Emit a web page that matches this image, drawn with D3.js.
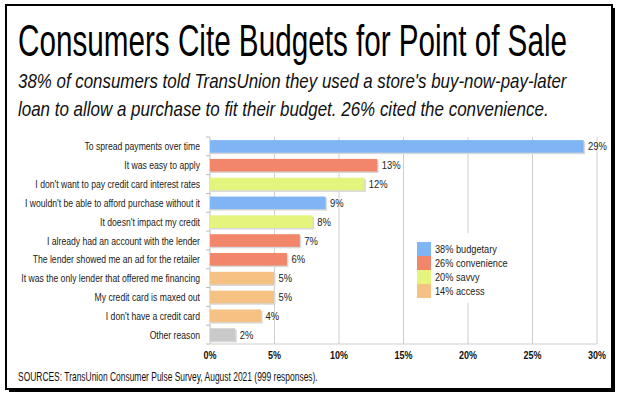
<!DOCTYPE html>
<html>
<head>
<script src="https://d3js.org/d3.v7.min.js"></script>
<style>
  body { margin: 0; background: #fff; }
  text { font-family: "Liberation Sans Narrow", "Liberation Sans", Arial, sans-serif; }
</style>
</head>
<body>
<script>
    var W = 620, H = 395;

    var reasons = [
        "To spread payments over time",
        "It was easy to apply",
        "I don't want to pay credit card interest rates",
        "I wouldn't be able to afford purchase without it",
        "It doesn't impact my credit",
        "I already had an account with the lender",
        "The lender showed me an ad for the retailer",
        "It was the only lender that offered me financing",
        "My credit card is maxed out",
        "I don't have a credit card",
        "Other reason"
    ];
    var shares = [29, 13, 12, 9, 8, 7, 6, 5, 5, 4, 2];
    var groups = ["budgetary", "convenience", "savvy", "budgetary", "savvy", "convenience",
                  "convenience", "access", "access", "access", "other"];
    var groupNames = ["budgetary", "convenience", "savvy", "access"];
    var legendLabels = ["38% budgetary", "26% convenience", "20% savvy", "14% access"];
    var xTicks = [0, 5, 10, 15, 20, 25, 30];

    var colors = d3.scaleOrdinal()
        .domain(["budgetary", "convenience", "savvy", "access", "other"])
        .range(["#7fb5f5", "#f2866a", "#e4f47c", "#f5c283", "#c9c9c9"]);

    // squeeze text horizontally (no narrow font installed)
    function narrow(sel, k) {
        sel.each(function() {
            var len = this.getComputedTextLength();
            d3.select(this).attr('textLength', len * k).attr('lengthAdjust', 'spacingAndGlyphs');
        });
    }

    // fit a left-aligned text to a given width by scaling its group
    function fitText(g, str, width) {
        var t = g.append('text').attr('x', 0).attr('y', 0).text(str);
        return t;
    }

    var svg = d3.select('body').append('svg')
        .attr('width', W).attr('height', H);

    // frame with drop shadow
    svg.append('rect').attr('x', 9).attr('y', 8).attr('width', 606).attr('height', 384).attr('fill', '#000');
    svg.append('rect').attr('x', 6).attr('y', 5).attr('width', 606).attr('height', 384)
        .attr('fill', '#fff').attr('stroke', '#000').attr('stroke-width', 2);

    function scaledLine(str, x0, y0, width, size, italic) {
        var g = svg.append('g');
        var t = g.append('text').attr('x', 0).attr('y', 0)
            .attr('font-size', size).attr('fill', '#000')
            .attr('font-style', italic ? 'italic' : 'normal')
            .text(str);
        var sx = width / t.node().getComputedTextLength();
        g.attr('transform', 'translate(' + x0 + ',' + y0 + ') scale(' + sx + ',1)');
        return t;
    }

    scaledLine('Consumers Cite Budgets for Point of Sale', 18, 56, 549, 45, false);

    var sub = [
        "38% of consumers told TransUnion they used a store's buy-now-pay-later",
        "loan to allow a purchase to fit their budget. 26% cited the convenience."
    ];
    var subLen = [549, 531];
    sub.forEach(function(s, i) {
        scaledLine(s, 18, 88 + i * 28, subLen[i], 20, true).attr('fill', '#111');
    });

    var x = d3.scaleLinear().domain([0, 30]).range([210, 597]);
    var y = d3.scaleBand().domain(reasons).range([137, 344]).paddingInner(0.33).paddingOuter(0.165);

    // gridlines
    svg.append('g').selectAll('line').data(xTicks.slice(1)).join('line')
        .attr('x1', d => x(d)).attr('x2', d => x(d))
        .attr('y1', 137).attr('y2', 344)
        .attr('stroke', '#cfcfcf').attr('stroke-width', 1);

    svg.append('line').attr('x1', 210).attr('x2', 597).attr('y1', 344).attr('y2', 344)
        .attr('stroke', '#cfcfcf');

    // left axis with boundary ticks
    svg.append('line').attr('x1', 210).attr('x2', 210).attr('y1', 137).attr('y2', 344)
        .attr('stroke', '#bdbdbd');
    svg.append('g').selectAll('line').data(d3.range(reasons.length + 1)).join('line')
        .attr('x1', 206).attr('x2', 210)
        .attr('y1', d => 137 + d * y.step())
        .attr('y2', d => 137 + d * y.step())
        .attr('stroke', '#bdbdbd');

    var rows = reasons.map(function(r, i) { return {r: r, v: shares[i], g: groups[i]}; });

    // bar shadows
    svg.append('g').selectAll('rect').data(rows).join('rect')
        .attr('x', x(0) + 1).attr('y', d => y(d.r) + 1.5)
        .attr('width', d => x(d.v) - x(0)).attr('height', y.bandwidth())
        .attr('fill', '#d8d8d8');

    svg.append('g').selectAll('rect').data(rows).join('rect')
        .attr('x', x(0)).attr('y', d => y(d.r))
        .attr('width', d => x(d.v) - x(0) - 0.5).attr('height', y.bandwidth())
        .attr('fill', d => colors(d.g));

    svg.append('g').selectAll('text').data(rows).join('text')
        .attr('x', d => x(d.v) + 4).attr('y', d => y(d.r) + y.bandwidth() / 2 + 4)
        .attr('font-size', 11.5).attr('fill', '#222')
        .text(d => d.v + '%')
        .call(narrow, 0.82);

    svg.append('g').selectAll('text').data(rows).join('text')
        .attr('x', 200).attr('y', d => y(d.r) + y.bandwidth() / 2 + 4)
        .attr('text-anchor', 'end').attr('font-size', 11.5).attr('fill', '#222')
        .text(d => d.r)
        .call(narrow, 0.75);

    svg.append('g').selectAll('text').data(xTicks).join('text')
        .attr('x', d => x(d)).attr('y', 359)
        .attr('text-anchor', 'middle').attr('font-size', 11).attr('font-weight', 'bold')
        .attr('fill', '#111')
        .text(d => d + '%')
        .call(narrow, 0.82);

    // legend
    var lg = svg.append('g');
    lg.append('rect').attr('x', 413).attr('y', 233).attr('width', 112).attr('height', 70).attr('fill', '#fff');
    lg.selectAll('rect.sw').data(groupNames).join('rect').attr('class', 'sw')
        .attr('x', 417).attr('y', (d, i) => 242 + i * 14)
        .attr('width', 14).attr('height', 14)
        .attr('fill', d => colors(d));
    lg.selectAll('text').data(legendLabels).join('text')
        .attr('x', 435).attr('y', (d, i) => 253 + i * 14)
        .attr('font-size', 11.5).attr('fill', '#222')
        .text(d => d)
        .call(narrow, 0.8);

    scaledLine('SOURCES: TransUnion Consumer Pulse Survey, August 2021 (999 responses).', 18, 381, 300, 13, false)
        .attr('fill', '#111');
</script>
</body>
</html>
